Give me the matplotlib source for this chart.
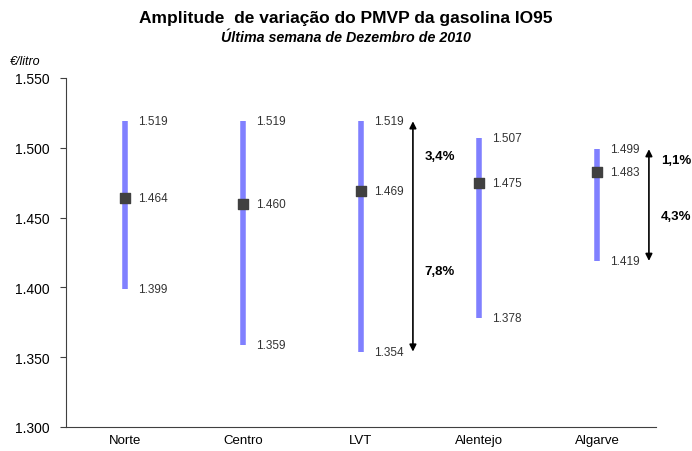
import numpy as np
import matplotlib.pyplot as plt

# Data
regions = ['Norte', 'Centro', 'LVT', 'Alentejo', 'Algarve']
max_vals = [1.519, 1.519, 1.519, 1.507, 1.499]
min_vals = [1.399, 1.359, 1.354, 1.378, 1.419]
avg_vals = [1.464, 1.460, 1.469, 1.475, 1.483]

# amplitude arrows (region index, upper %, lower %)
arrow_regions = [2, 4]
pct_up = ['3,4%', '1,1%']
pct_down = ['7,8%', '4,3%']

plt.rcParams['font.family'] = ['Liberation Sans', 'DejaVu Sans']

fig = plt.figure(figsize=(6.92, 4.52), dpi=100)
ax = fig.add_axes([66 / 692, 1 - 428 / 452, 590 / 692, 349 / 452])

x = np.arange(len(regions))
bar_color = '#8080ff'
ax.vlines(x, min_vals, max_vals, color=bar_color, lw=4)
ax.scatter(x, avg_vals, marker='s', s=45, color='#404040', zorder=3)

for i in range(len(regions)):
    for v in (max_vals[i], avg_vals[i], min_vals[i]):
        ax.text(x[i] + 0.11, v, f'{v:.3f}', fontsize=8.5,
                va='center', ha='left', color='#333333')

for k, i in enumerate(arrow_regions):
    ax_x = x[i] + 0.44
    ax.annotate('', xy=(ax_x, max_vals[i]), xytext=(ax_x, min_vals[i]),
                arrowprops=dict(arrowstyle='<|-|>', color='black', lw=1.2,
                                mutation_scale=10, shrinkA=0, shrinkB=0))
    up_y = (max_vals[i] + avg_vals[i]) / 2
    down_y = (avg_vals[i] + min_vals[i]) / 2
    ax.text(ax_x + 0.1, up_y, pct_up[k], fontsize=9.5, fontweight='bold',
            va='center', ha='left')
    ax.text(ax_x + 0.1, down_y, pct_down[k], fontsize=9.5, fontweight='bold',
            va='center', ha='left')

ax.set_xlim(-0.5, len(regions) - 0.5)
ax.set_ylim(1.300, 1.550)
ticks = np.arange(1.300, 1.551, 0.050)
ax.set_yticks(ticks)
ax.set_yticklabels([f'{v:.3f}' for v in ticks], fontsize=10)
ax.set_xticks(x)
ax.set_xticklabels(regions, fontsize=9.5)
ax.tick_params(axis='x', length=0, pad=5)
ax.tick_params(axis='y', length=4, direction='out', pad=8, width=0.8, color='#404040')
for s in ['top', 'right']:
    ax.spines[s].set_visible(False)
ax.spines['left'].set_color('#404040')
ax.spines['bottom'].set_color('#404040')

fig.text(0.5, 1 - 18 / 452, 'Amplitude  de variação do PMVP da gasolina IO95',
         ha='center', va='center', fontsize=12.5, fontweight='bold')
fig.text(0.5, 1 - 38 / 452, 'Última semana de Dezembro de 2010',
         ha='center', va='center', fontsize=10.3, fontweight='bold', style='italic')
fig.text(10 / 692, 1 - 62 / 452, '€/litro', ha='left', va='center',
         fontsize=9, style='italic')

fig.savefig('out.png', dpi=100)
